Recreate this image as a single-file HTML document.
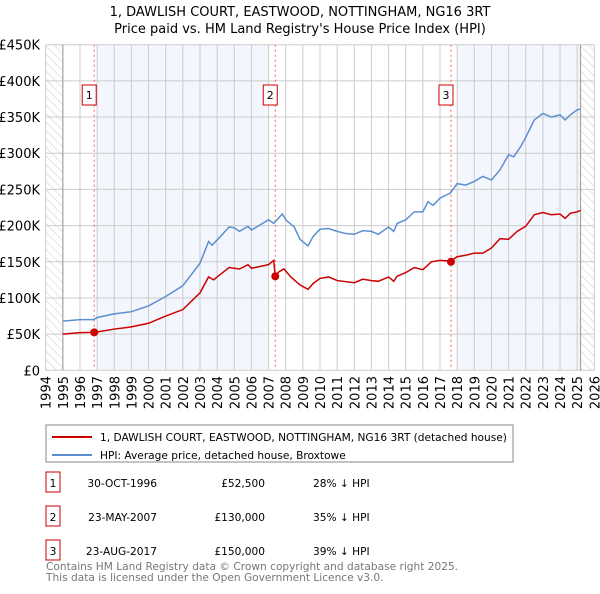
<!DOCTYPE html>
<html><head><meta charset="utf-8"><style>
body{margin:0;background:#fff;font-family:"DejaVu Sans","Liberation Sans",sans-serif;}
svg text{font-family:"DejaVu Sans","Liberation Sans",sans-serif;}
</style></head><body>
<svg id="c" width="600" height="590" viewBox="0 0 600 590" xmlns="http://www.w3.org/2000/svg">
<defs><pattern id="hatch" width="6" height="6" patternUnits="userSpaceOnUse" patternTransform="rotate(-45)"><line x1="0" y1="0" x2="0" y2="6" stroke="#ccc" stroke-width="1"/></pattern></defs>
<text x="300" y="16" text-anchor="middle" font-size="13">1, DAWLISH COURT, EASTWOOD, NOTTINGHAM, NG16 3RT</text>
<text x="300" y="33" text-anchor="middle" font-size="13">Price paid vs. HM Land Registry's House Price Index (HPI)</text>
<g id="plot"></g>
<rect x="46" y="425" width="467" height="37" fill="#fff" stroke="#888"/>
<line x1="52" y1="437" x2="92" y2="437" stroke="#cc0000" stroke-width="2"/>
<text x="100" y="441" font-size="10.6">1, DAWLISH COURT, EASTWOOD, NOTTINGHAM, NG16 3RT (detached house)</text>
<line x1="52" y1="455" x2="92" y2="455" stroke="#5b8fd0" stroke-width="2"/>
<text x="100" y="459" font-size="10.6">HPI: Average price, detached house, Broxtowe</text>
<g id="table" font-size="10.6"></g>
<text x="46" y="570" font-size="10.6" fill="#777">Contains HM Land Registry data © Crown copyright and database right 2025.</text>
<text x="46" y="581" font-size="10.6" fill="#777">This data is licensed under the Open Government Licence v3.0.</text>
</svg>
<script>
const yTicks=[0,50,100,150,200,250,300,350,400,450];
const yTickLabels=["£0","£50K","£100K","£150K","£200K","£250K","£300K","£350K","£400K","£450K"];
const xYears=[1994,1995,1996,1997,1998,1999,2000,2001,2002,2003,2004,2005,2006,2007,2008,2009,2010,2011,2012,2013,2014,2015,2016,2017,2018,2019,2020,2021,2022,2023,2024,2025,2026];
const hpiT=[1995,1996,1996.8,1997,1998,1999,2000,2001,2002,2003,2003.5,2003.7,2004,2004.7,2005,2005.3,2005.8,2006,2006.3,2007,2007.3,2007.8,2008,2008.5,2008.83,2009.3,2009.6,2010,2010.5,2011,2011.5,2012,2012.5,2013,2013.4,2014,2014.3,2014.5,2015,2015.5,2016,2016.3,2016.6,2017,2017.6,2018,2018.5,2019,2019.5,2020,2020.5,2021,2021.3,2021.7,2022,2022.5,2023,2023.5,2024,2024.3,2024.6,2025,2025.2];
const hpiV=[68,70,70,73,78,81,89,102,117,148,178,173,180,198,197,192,199,194,198,208,203,216,208,198,181,172,185,195,196,192,189,188,193,192,188,198,192,203,208,219,219,233,228,238,245,258,256,261,268,263,277,298,295,309,322,346,355,350,353,346,353,360,361];
const ppT=[1995,1996,1996.83,1997,1998,1999,2000,2001,2002,2003,2003.5,2003.8,2004,2004.7,2005.3,2005.8,2006,2007,2007.3,2007.39,2007.6,2007.9,2008.3,2008.83,2009.3,2009.6,2010,2010.5,2011,2012,2012.5,2013,2013.4,2014,2014.3,2014.5,2015,2015.5,2016,2016.5,2017,2017.64,2018,2018.5,2019,2019.5,2020,2020.5,2021,2021.5,2022,2022.5,2023,2023.5,2024,2024.3,2024.6,2025,2025.2];
const ppV=[50,52,52.5,53,57,60,65,75,84,107,129,125,129,142,140,146,141,146,152,130,136,140,129,118,112,120,127,129,124,121,126,124,123,129,123,130,135,142,139,150,152,151,157,159,162,162,169,182,181,192,199,215,218,215,216,210,217,219,221];
const saleLabels=["1","2","3"];
const saleT=[1996.83,2007.39,2017.64];
const saleV=[52.5,130,150];
const saleDates=["30-OCT-1996","23-MAY-2007","23-AUG-2017"];
const salePrices=["£52,500","£130,000","£150,000"];
const saleHpi=["28% ↓ HPI","35% ↓ HPI","39% ↓ HPI"];

const L=45.7,R=594.3,T=44.7,B=370.3;
const x=t=>L+(t-1994)*(R-L)/32;
const y=v=>B-v*(B-T)/450;
const END=2025.2;
const NS="http://www.w3.org/2000/svg";
const g=document.getElementById('plot');
function mk(tag,at,parent){const e=document.createElementNS(NS,tag);for(const k in at)e.setAttribute(k,at[k]);(parent||g).appendChild(e);return e;}
let s=mk('rect',{x:x(1996.95),y:T,width:x(2007)-x(1996.95),height:B-T,fill:'#f3f6fd'});

s=mk('rect',{x:x(2018),y:T,width:x(END)-x(2018),height:B-T,fill:'#f3f6fd'});

s=mk('rect',{x:L,y:T,width:x(1995)-L,height:B-T,fill:'url(#hatch)'});

s=mk('rect',{x:x(END),y:T,width:R-x(END),height:B-T,fill:'url(#hatch)'});

yTicks.forEach((v,i)=>{
 const l=mk('line',{x1:L,x2:R,y1:y(v),y2:y(v),stroke:'#ccc'});
 
 const t=mk('text',{x:40,y:y(v)+5,'text-anchor':'end','font-size':13});t.textContent=yTickLabels[i];
 
});
xYears.forEach(yr=>{
 const l=mk('line',{x1:x(yr),x2:x(yr),y1:T,y2:B,stroke:'#ccc'});
 
 const t=mk('text',{x:0,y:0,'font-size':13,'text-anchor':'end',transform:`translate(${x(yr)+5},376) rotate(-90)`});t.textContent=yr;
 
});
let a=mk('line',{x1:x(1995),x2:x(1995),y1:T,y2:B,stroke:'#999'});

a=mk('line',{x1:x(END),x2:x(END),y1:T,y2:B,stroke:'#999'});

saleT.forEach((t,i)=>{
 const l=mk('line',{x1:x(t),x2:x(t),y1:T,y2:B,stroke:'#f06060','stroke-dasharray':'2,3'});
 
 const r=mk('rect',{x:x(t)-12,y:85,width:14,height:20,fill:'#fff',stroke:'#cc0000'});
 
 const tx=mk('text',{x:x(t)-5,y:99,'text-anchor':'middle','font-size':11});tx.textContent=saleLabels[i];
 
});
let p=mk('polyline',{points:hpiT.map((t,i)=>x(t)+','+y(hpiV[i])).join(' '),fill:'none',stroke:'#5b8fd0','stroke-width':1.5});

p=mk('polyline',{points:ppT.map((t,i)=>x(t)+','+y(ppV[i])).join(' '),fill:'none',stroke:'#cc0000','stroke-width':1.5});

saleT.forEach((t,i)=>{
 const c=mk('circle',{cx:x(t),cy:y(saleV[i]),r:4,fill:'#cc0000'});
 
});
const tb=document.getElementById('table');
const rowsY=[487,521,555];
saleLabels.forEach((lb,i)=>{
 const yy=rowsY[i];
 const r=mk('rect',{x:46,y:yy-15,width:14,height:20,fill:'#fff',stroke:'#cc0000'},tb);
 
 let t=mk('text',{x:53,y:yy,'text-anchor':'middle'},tb);t.textContent=lb;
 
 t=mk('text',{x:157,y:yy,'text-anchor':'end'},tb);t.textContent=saleDates[i];
 
 t=mk('text',{x:265,y:yy,'text-anchor':'end'},tb);t.textContent=salePrices[i];
 
 t=mk('text',{x:313,y:yy},tb);t.textContent=saleHpi[i];
 
});
</script>
</body></html>
